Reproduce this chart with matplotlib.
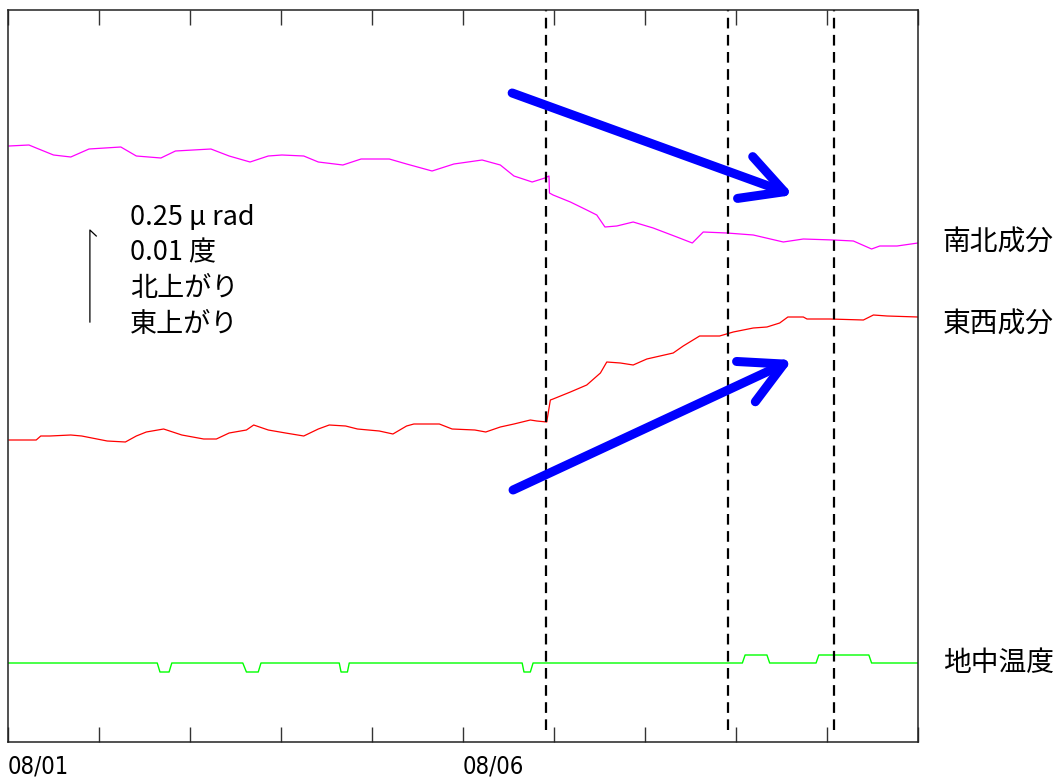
import matplotlib
matplotlib.use("Agg")
import matplotlib.pyplot as plt
from matplotlib import font_manager
from matplotlib.transforms import blended_transform_factory

plt.rcParams["font.family"] = ["Noto Sans CJK JP", "DejaVu Sans"]

# time in days since 08/01 00:00, tilt levels in chart units (0.25 urad ~ 92 units)
ns_t = [0.01, 0.23, 0.31, 0.50, 0.69, 0.89, 1.24, 1.41, 1.68, 1.84, 2.23, 2.43,
        2.66, 2.86, 3.01, 3.25, 3.41, 3.68, 3.88, 4.19, 4.38, 4.66, 4.90, 5.21,
        5.41, 5.56, 5.76, 5.90, 5.945, 5.95, 5.99, 6.18, 6.36, 6.47, 6.56, 6.69,
        6.87, 7.09, 7.35, 7.52, 7.64, 7.90, 8.19, 8.52, 8.74, 9.07, 9.29, 9.49,
        9.58, 9.77, 10.0]
ns_v = [596, 597, 594, 587, 585, 593, 595, 586, 584, 591, 593, 586,
        580, 586, 587, 586, 580, 577, 583, 583, 578, 571, 578, 582,
        577, 566, 560, 564, 566, 549, 547, 540, 532, 527, 515, 516,
        520, 514, 505, 499, 510, 509, 507, 500, 503, 502, 501, 493,
        496, 496, 499]

ew_t = [0.01, 0.31, 0.36, 0.46, 0.69, 0.81, 1.09, 1.29, 1.41, 1.52, 1.71, 1.91,
        2.15, 2.29, 2.43, 2.62, 2.70, 2.86, 3.05, 3.25, 3.41, 3.53, 3.71, 3.84,
        4.08, 4.23, 4.38, 4.46, 4.74, 4.88, 5.13, 5.25, 5.41, 5.56, 5.74, 5.81,
        5.92, 5.96, 5.99, 6.18, 6.36, 6.51, 6.58, 6.73, 6.87, 7.02, 7.31, 7.42,
        7.60, 7.82, 7.97, 8.19, 8.34, 8.48, 8.57, 8.74, 8.78, 9.03, 9.40, 9.51,
        9.66, 10.0]
ew_v = [302, 302, 306, 306, 307, 306, 301, 300, 306, 310, 313, 307,
        303, 303, 309, 312, 317, 312, 309, 306, 313, 317, 316, 313,
        311, 308, 316, 318, 318, 313, 312, 310, 315, 318, 322, 321,
        320, 342, 343, 350, 357, 369, 380, 379, 377, 383, 389, 396,
        406, 406, 410, 414, 415, 419, 425, 425, 423, 423, 422, 427,
        426, 425]

temp_t = [0.0, 1.64, 1.67, 1.77, 1.80, 2.58, 2.62, 2.75, 2.78, 3.64, 3.66, 3.73,
          3.75, 5.65, 5.67, 5.74, 5.77, 8.07, 8.10, 8.34, 8.37, 8.88, 8.91, 9.46,
          9.49, 10.0]
temp_v = [79, 79, 70, 70, 79, 79, 70, 70, 79, 79, 70, 70,
          79, 79, 70, 70, 79, 79, 87, 87, 79, 79, 87, 87,
          79, 79]

event_days = [5.91, 7.91, 9.08]
day_labels = ["08/01", "", "", "", "", "08/06", "", "", "", "", ""]
series_names = ["南北成分", "東西成分", "地中温度"]
scale_lines = ["0.25 μ rad", "0.01 度", "北上がり", "東上がり"]

# condensed font for the date labels if one is around
tick_font = "DejaVu Sans"
names = {f.name for f in font_manager.fontManager.ttflist}
for cand in ["Liberation Sans Narrow", "DejaVu Sans Condensed"]:
    if cand in names:
        tick_font = cand
        break

fig = plt.figure(figsize=(10.61, 7.82), dpi=100)
ax = fig.add_axes([8 / 1061, 40 / 782, 910 / 1061, 732 / 782])
ax.set_xlim(0, 10)
ax.set_ylim(0, 732)

ax.plot(ns_t, ns_v, color="#ff00ff", lw=0.9)
ax.plot(ew_t, ew_v, color="#ff0000", lw=0.9)
ax.plot(temp_t, temp_v, color="#00ff00", lw=1.0)

for d in event_days:
    ax.axvline(d, ymin=12 / 732, ymax=1, color="black", lw=1.6, dashes=(4.8, 2.9))

# trend arrows
arrow_kw = dict(arrowstyle="->,head_length=1.5,head_width=0.8", color="#0000ff",
                lw=6.5, shrinkA=0, shrinkB=0, mutation_scale=20, capstyle="round",
                joinstyle="round")
ax.annotate("", xy=(8.63, 547), xytext=(5.54, 649), arrowprops=arrow_kw)
ax.annotate("", xy=(8.62, 382), xytext=(5.55, 252), arrowprops=arrow_kw)

# scale bar
ax.plot([0.90, 0.90, 0.97], [420, 512, 506], color="black", lw=0.9)
for i, s in enumerate(scale_lines):
    ax.text(1.34, 525 - 36 * i, s, fontsize=19.5, va="center", ha="left")

# series names at the right edge
tr = blended_transform_factory(ax.transAxes, ax.transData)
for name, lev in zip(series_names, [499, 417, 79]):
    ax.text(1.027, lev, name, transform=tr, fontsize=20, va="center",
            ha="left", clip_on=False)

ax.set_yticks([])
ax.set_xticks(range(11))
ax.set_xticklabels(day_labels, ha="left", fontsize=17, family=tick_font,
                   fontstretch="condensed")
ax.tick_params(axis="x", direction="in", top=True, length=11, width=1,
               pad=9, color="#333333")
for sp in ax.spines.values():
    sp.set_linewidth(1.1)
    sp.set_color("#222222")

fig.savefig("out.png", dpi=100)
